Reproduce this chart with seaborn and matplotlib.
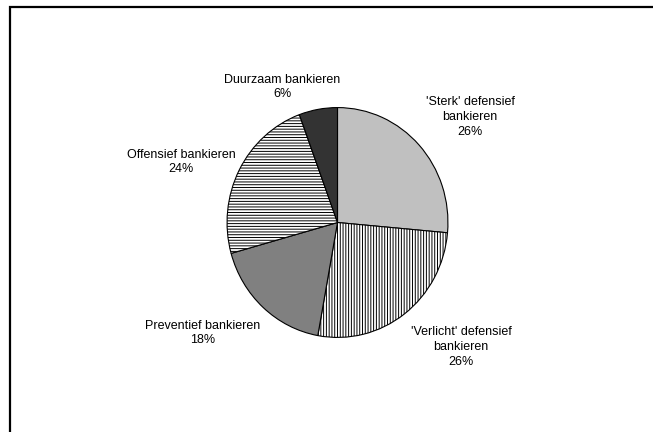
import matplotlib
matplotlib.use("Agg")
import matplotlib.pyplot as plt
import seaborn as sns
from matplotlib.patches import Rectangle

# ---- data ----
categories = ["'Sterk' defensief\nbankieren", "'Verlicht' defensief\nbankieren",
              "Preventief bankieren", "Offensief bankieren", "Duurzaam bankieren"]
shares = [26.4, 26.4, 17.8, 23.7, 5.6]
face_colors = ["#c0c0c0", "#ffffff", "#808080", "#ffffff", "#333333"]
hatches = [None, "||||||", None, "------", None]

sns.set_style("white")
plt.rcParams['font.family'] = ['Liberation Sans', 'DejaVu Sans']
plt.rcParams['hatch.linewidth'] = 0.7
plt.rcParams['hatch.color'] = 'black'

W, H = 653, 432
fig = plt.figure(figsize=(W / 100, H / 100), dpi=100)
fig.patch.set_facecolor('white')

# pie axes placed in pixel terms (centre ~ (337,223), rx ~111, ry ~115)
cx, cy, rx, ry = 337.5, 222.5, 111, 115.5
ax = fig.add_axes([(cx - rx) / W, (H - cy - ry) / H, 2 * rx / W, 2 * ry / H])
wedges, _ = ax.pie(shares, startangle=90, counterclock=False, colors=face_colors,
                   wedgeprops=dict(edgecolor='black', linewidth=0.8))
for w, h in zip(wedges, hatches):
    if h:
        w.set_hatch(h)
ax.set_aspect('auto')
ax.set_xlim(-1.005, 1.005)
ax.set_ylim(-1.005, 1.005)
ax.axis('off')

# labels (pixel positions of centres of text blocks)
total = sum(shares)
label_pos = [(470, 117), (461, 347), (203, 333), (181, 162), (282, 87)]
for cat, val, (px, py) in zip(categories, shares, label_pos):
    fig.text(px / W, 1 - py / H, f"{cat}\n{100 * val / total:.0f}%", ha='center', va='center',
             fontsize=9, linespacing=1.3, color='black')

# outer frame (partially visible)
fig.patches.append(Rectangle((9.5 / W, -0.2), 2.0, 1.2 - 6.8 / H,
                             transform=fig.transFigure, fill=False,
                             edgecolor='black', linewidth=1.6))

fig.savefig("out.png", dpi=100, facecolor='white')
